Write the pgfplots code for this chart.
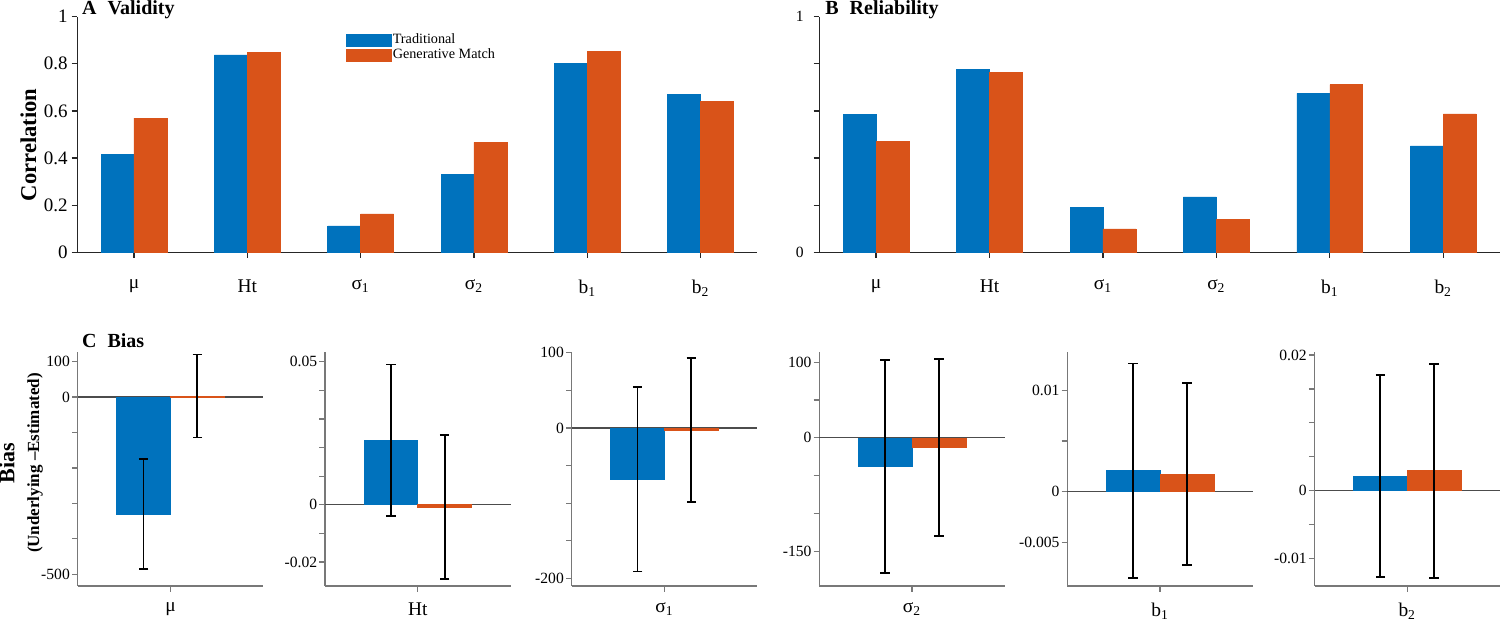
\documentclass[border=0pt]{standalone}
\usepackage{fontspec}
\setmainfont{Liberation Serif}
\usepackage{pgfplots}
\pgfplotsset{compat=1.18}
\definecolor{mblue}{RGB}{0,114,189}
\definecolor{morange}{RGB}{217,83,25}
\definecolor{axdark}{RGB}{38,38,38}
\definecolor{axgray}{RGB}{120,120,120}
\newcommand\tickA{\fontsize{9.5}{11}\selectfont}
\newcommand\tickC{\fontsize{7.8}{9}\selectfont}
\newcommand\catf{\fontsize{9.7}{11}\selectfont}

\pgfplotsset{
  common/.style={
    scale only axis, anchor=south west,
    axis lines*=left, tick align=outside,
    major tick length=2.8pt, minor tick length=0pt,
    ybar, bar width=0.29,
    xmin=0.5,
    xtick pos=bottom, ytick pos=left,
    enlarge x limits=false,
    scaled y ticks=false,
    clip=false,
  },
  top/.style={
    common, width=340pt, height=117.8pt,
    xmax=6.5, ymin=0, ymax=1,
    xtick={1,2,3,4,5,6},
    xticklabels={μ,Ht,σ\textsubscript{1},σ\textsubscript{2},b\textsubscript{1},b\textsubscript{2}},
    xticklabel style={font=\catf, yshift=-7.5pt},
    axis line style={axdark, line width=0.6pt},
    tick style={axdark, line width=0.6pt},
  },
  bot/.style={
    common, width=92.75pt, height=117.15pt,
    xmax=1.5, xtick={1},
    xticklabel style={font=\catf, yshift=-2pt},
    yticklabel style={font=\tickC, xshift=2.4pt},
    axis line style={axgray, line width=0.6pt},
    tick style={axgray, line width=0.6pt},
    extra y ticks={0}, extra y tick labels={},
    extra y tick style={grid=major, major grid style={black!70, line width=0.6pt}, major tick length=0pt},
  },
  errb/.style={error bars/.cd, y dir=both, y explicit,
    error bar style={black, line width=0.9pt},
    error mark options={rotate=90, mark size=2.4pt, line width=0.9pt, black}},
  blu/.style={fill=mblue, draw=mblue, line width=0.3pt, bar shift=-0.145},
  org/.style={fill=morange, draw=morange, line width=0.3pt, bar shift=0.145},
  sqleg/.style={legend image code/.code={\fill[##1] (0pt,-3pt) rectangle (22.5pt,3pt);}},
}

\begin{document}
\begin{tikzpicture}
\path[use as bounding box] (0,0) rectangle (750pt,310.5pt);

% ---------- A Validity ----------
\begin{axis}[top, at={(38.65pt,184.35pt)},
  ytick={0,0.2,0.4,0.6,0.8,1},
  yticklabels={0,0.2,0.4,0.6,0.8,1},
  yticklabel style={font=\tickA, xshift=1.5pt},
  legend style={at={(0.394,0.935)}, anchor=north west, draw=none, fill=none,
    inner sep=0pt, font=\fontsize{7.1}{8}\selectfont, row sep=-0.5pt,
    nodes={inner sep=0.8pt}},
  legend cell align=left,
]
\addplot[blu, sqleg]
  coordinates {(1,0.416) (2,0.838) (3,0.112) (4,0.332) (5,0.803) (6,0.669)};
\addlegendentry{Traditional}
\addplot[org, sqleg]
  coordinates {(1,0.569) (2,0.850) (3,0.163) (4,0.467) (5,0.851) (6,0.641)};
\addlegendentry{Generative Match}
\end{axis}

% ---------- B Reliability ----------
\begin{axis}[top, at={(409.65pt,184.35pt)}, width=340.35pt,
  ytick={0,0.2,0.4,0.6,0.8,1},
  yticklabels={0,,,,,1},
  yticklabel style={font=\fontsize{7.8}{9}\selectfont, xshift=-1.5pt},
]
\addplot[blu] coordinates {(1,0.586) (2,0.777) (3,0.191) (4,0.235) (5,0.675) (6,0.452)};
\addplot[org] coordinates {(1,0.470) (2,0.765) (3,0.099) (4,0.140) (5,0.712) (6,0.587)};
\end{axis}

% ---------- C Bias: mu ----------
\begin{axis}[bot, at={(38.85pt,17.5pt)}, ymin=-533, ymax=128,
  ytick={-500,-400,-300,-200,-100,0,100},
  yticklabels={-500,,,,,0,100},
  xticklabels={μ}]
\addplot[blu, errb] coordinates {(1,-330) +- (0,155)};
\addplot[org, errb] coordinates {(1,3) +- (0,117)};
\end{axis}

% ---------- C Bias: Ht ----------
\begin{axis}[bot, at={(162.5pt,17.5pt)}, ymin=-0.0284, ymax=0.0535,
  ytick={-0.02,-0.01,0,0.01,0.02,0.03,0.04,0.05},
  yticklabels={-0.02,,0,,,,,0.05},
  xticklabels={Ht}]
\addplot[blu, errb] coordinates {(1,0.0225) +- (0,0.0265)};
\addplot[org, errb] coordinates {(1,-0.0008) +- (0,0.0252)};
\end{axis}

% ---------- C Bias: sigma1 ----------
\begin{axis}[bot, at={(285.85pt,17.5pt)}, ymin=-210, ymax=101.3,
  ytick={-200,-150,-100,-50,0,50,100},
  yticklabels={-200,,,,0,,100},
  xticklabels={σ\textsubscript{1}}]
\addplot[blu, errb] coordinates {(1,-68) +- (0,122.7)};
\addplot[org, errb] coordinates {(1,-3) +- (0,95.5)};
\end{axis}

% ---------- C Bias: sigma2 ----------
\begin{axis}[bot, at={(409.65pt,17.5pt)}, ymin=-196, ymax=114,
  ytick={-150,-100,-50,0,50,100},
  yticklabels={-150,,,0,,100},
  xticklabels={σ\textsubscript{2}}]
\addplot[blu, errb] coordinates {(1,-38) +- (0,141)};
\addplot[org, errb] coordinates {(1,-13) +- (0,117)};
\end{axis}

% ---------- C Bias: b1 ----------
\begin{axis}[bot, at={(533.65pt,17.5pt)}, ymin=-0.00928, ymax=0.0138,
  ytick={-0.005,0,0.005,0.01},
  yticklabels={-0.005,0,,0.01},
  xticklabels={b\textsubscript{1}}]
\addplot[blu, errb] coordinates {(1,0.00208) +- (0,0.01055)};
\addplot[org, errb] coordinates {(1,0.00173) +- (0,0.00896)};
\end{axis}

% ---------- C Bias: b2 ----------
\begin{axis}[bot, at={(657.25pt,17.5pt)}, ymin=-0.0141, ymax=0.0205,
  ytick={-0.01,-0.005,0,0.005,0.01,0.015,0.02},
  yticklabels={-0.01,,0,,,,0.02},
  xticklabels={b\textsubscript{2}}]
\addplot[blu, errb] coordinates {(1,0.00214) +- (0,0.0149)};
\addplot[org, errb] coordinates {(1,0.00293) +- (0,0.0158)};
\end{axis}

% ---------- titles and axis labels ----------
\node[anchor=base west, inner sep=0pt, font=\bfseries\fontsize{10}{12}\selectfont] at (40.85pt,303pt) {A\hspace{0.55em}Validity};
\node[anchor=base west, inner sep=0pt, font=\bfseries\fontsize{10}{12}\selectfont] at (412.5pt,303pt) {B\hspace{0.55em}Reliability};
\node[anchor=base west, inner sep=0pt, font=\bfseries\fontsize{10}{12}\selectfont] at (40.85pt,136.85pt) {C\hspace{0.55em}Bias};
\node[rotate=90, inner sep=0pt, font=\bfseries\fontsize{11.3}{13}\selectfont] at (14.2pt,238pt) {Correlation};
\node[rotate=90, inner sep=0pt, font=\bfseries\fontsize{11}{13}\selectfont] at (3.4pt,78.85pt) {Bias};
\node[rotate=90, inner sep=0pt, font=\bfseries\fontsize{8.5}{10}\selectfont] at (17.5pt,79pt) {(Underlying --Estimated)};
\end{tikzpicture}
\end{document}
